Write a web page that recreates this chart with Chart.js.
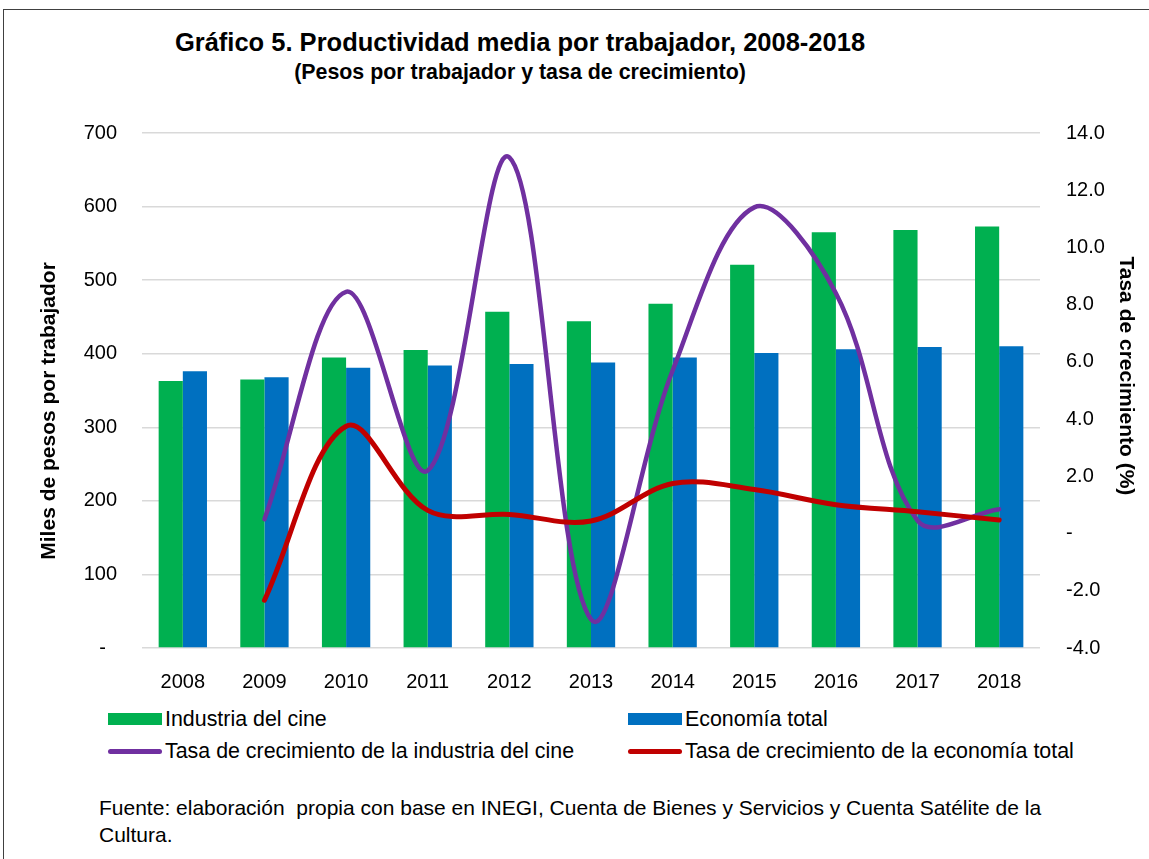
<!DOCTYPE html>
<html lang="es">
<head>
<meta charset="utf-8">
<title>Gráfico 5. Productividad media por trabajador, 2008-2018</title>
<script src="https://cdn.jsdelivr.net/npm/chart.js@4.4.1/dist/chart.umd.min.js"></script>
<style>
  html, body { margin: 0; padding: 0; background: #fff; overflow: hidden; }
  body { width: 1149px; height: 859px; position: relative; font-family: 'Liberation Sans', Arial, sans-serif; color: #000; }
  #frame { position: absolute; left: 3px; top: 9px; width: 1200px; height: 900px; border: 1.5px solid #404040; box-sizing: border-box; }
  .title { position: absolute; left: 0; width: 1040px; text-align: center; font-weight: bold; white-space: nowrap; }
  #t1 { top: 28px; font-size: 25.5px; line-height: 28px; }
  #t2 { top: 60px; font-size: 21.4px; line-height: 24px; }
  #wrap { position: absolute; left: 0; top: 0; width: 1149px; height: 688px; }
  #legend .item { position: absolute; font-size: 21.4px; line-height: 24px; height: 24px; display: flex; align-items: center; white-space: nowrap; }
  #legend .sw { width: 54px; margin-right: 3px; }
  #note { position: absolute; left: 99px; top: 794px; width: 1000px; font-size: 21px; line-height: 27px; white-space: nowrap; }
</style>
</head>
<body>
<div id="frame"></div>
<div id="t1" class="title">Gráfico 5. Productividad media por trabajador, 2008-2018</div>
<div id="t2" class="title">(Pesos por trabajador y tasa de crecimiento)</div>
<div id="wrap"><canvas id="prodChart"></canvas></div>
<div id="legend"></div>
<div id="note">Fuente: elaboración&nbsp; propia con base en INEGI, Cuenta de Bienes y Servicios y Cuenta Satélite de la<br>Cultura.</div>

<script>
// ---------- Chart Data ----------
const years = ["2008", "2009", "2010", "2011", "2012", "2013", "2014", "2015", "2016", "2017", "2018"];

// miles de pesos por trabajador
const cineProd  = [363, 365, 395, 405, 457, 444, 468, 521, 565, 568, 573];
const totalProd = [376, 368, 381, 384, 386, 388, 395, 401, 406, 409, 410];

// tasa de crecimiento (%)
const cineRate  = [null, 0.5, 8.45, 2.2, 13.15, -3.0, 5.7, 11.4, 8.4, 0.45, 0.85];
const totalRate = [null, -2.33, 3.75, 0.81, 0.67, 0.44, 1.75, 1.54, 1.01, 0.76, 0.47];

const seriesNames = [
  "Industria del cine", "Economía total",
  "Tasa de crecimiento de la industria del cine", "Tasa de crecimiento de la economía total"
];
const colors = ["#00B050", "#0070C0", "#7030A0", "#C00000"];

// ---------- Chart ----------
Chart.defaults.font.family = "'Liberation Sans', Arial, sans-serif";
Chart.defaults.color = "#000";

const NB = "\u00a0";

const chart = new Chart(document.getElementById("prodChart"), {
  type: "bar",
  data: {
    labels: years,
    datasets: [
      { type: "bar", label: seriesNames[0], data: cineProd, backgroundColor: colors[0], yAxisID: "y", order: 3 },
      { type: "bar", label: seriesNames[1], data: totalProd, backgroundColor: colors[1], yAxisID: "y", order: 3 },
      { type: "line", label: seriesNames[2], data: cineRate, borderColor: colors[2], borderWidth: 4.5,
        yAxisID: "y1", pointRadius: 0, tension: 0.35, borderCapStyle: "round", order: 2 },
      { type: "line", label: seriesNames[3], data: totalRate, borderColor: colors[3], borderWidth: 5,
        yAxisID: "y1", pointRadius: 0, tension: 0.35, borderCapStyle: "round", order: 1 }
    ]
  },
  options: {
    responsive: true,
    maintainAspectRatio: false,
    animation: false,
    layout: { padding: { top: 133, left: 0, right: 0, bottom: 0 } },
    datasets: { bar: { categoryPercentage: 0.592, barPercentage: 1.0 } },
    plugins: { legend: { display: false }, tooltip: { enabled: false } },
    scales: {
      x: {
        grid: { display: false },
        border: { display: false },
        ticks: { font: { size: 20 }, padding: 14, maxRotation: 0 },
        afterFit: s => { s.height = 40; }
      },
      y: {
        position: "left",
        min: 0, max: 700,
        grid: { color: "#d9d9d9", lineWidth: 1.5, drawTicks: false },
        border: { display: false },
        ticks: {
          stepSize: 100, padding: 25, font: { size: 20 },
          callback: v => v === 0 ? "-" + NB + NB : v
        },
        title: {
          display: true, text: "Miles de pesos por trabajador" + NB.repeat(7),
          font: { size: 21, weight: "bold" }, padding: { top: 37, bottom: 0 }
        },
        afterFit: s => { s.width = 142; }
      },
      y1: {
        position: "right",
        min: -4, max: 14,
        grid: { display: false, drawTicks: false },
        border: { display: false },
        ticks: {
          stepSize: 2, padding: 26, font: { size: 20 },
          callback: v => v === 0 ? "-" : v.toFixed(1)
        },
        title: {
          display: true, text: "Tasa de crecimiento (%)" + NB.repeat(5),
          font: { size: 21, weight: "bold" }, padding: { top: 11, bottom: 0 }
        },
        afterFit: s => { s.width = 109; }
      }
    }
  }
});

// ---------- Legend (two columns, below the plot) ----------
const legendBox = document.getElementById("legend");
const colX = [108, 628];
const rowY = [707, 739];
chart.data.datasets.forEach((ds, i) => {
  const item = document.createElement("div");
  item.className = "item";
  item.style.left = colX[i % 2] + "px";
  item.style.top = rowY[Math.floor(i / 2)] + "px";

  const sw = document.createElement("span");
  sw.className = "sw";
  if (ds.type === "bar") {
    sw.style.height = "12px";
    sw.style.background = ds.backgroundColor;
  } else {
    sw.style.height = "5px";
    sw.style.borderRadius = "3px";
    sw.style.background = ds.borderColor;
  }
  item.appendChild(sw);
  item.appendChild(document.createTextNode(ds.label));
  legendBox.appendChild(item);
});
</script>
</body>
</html>
